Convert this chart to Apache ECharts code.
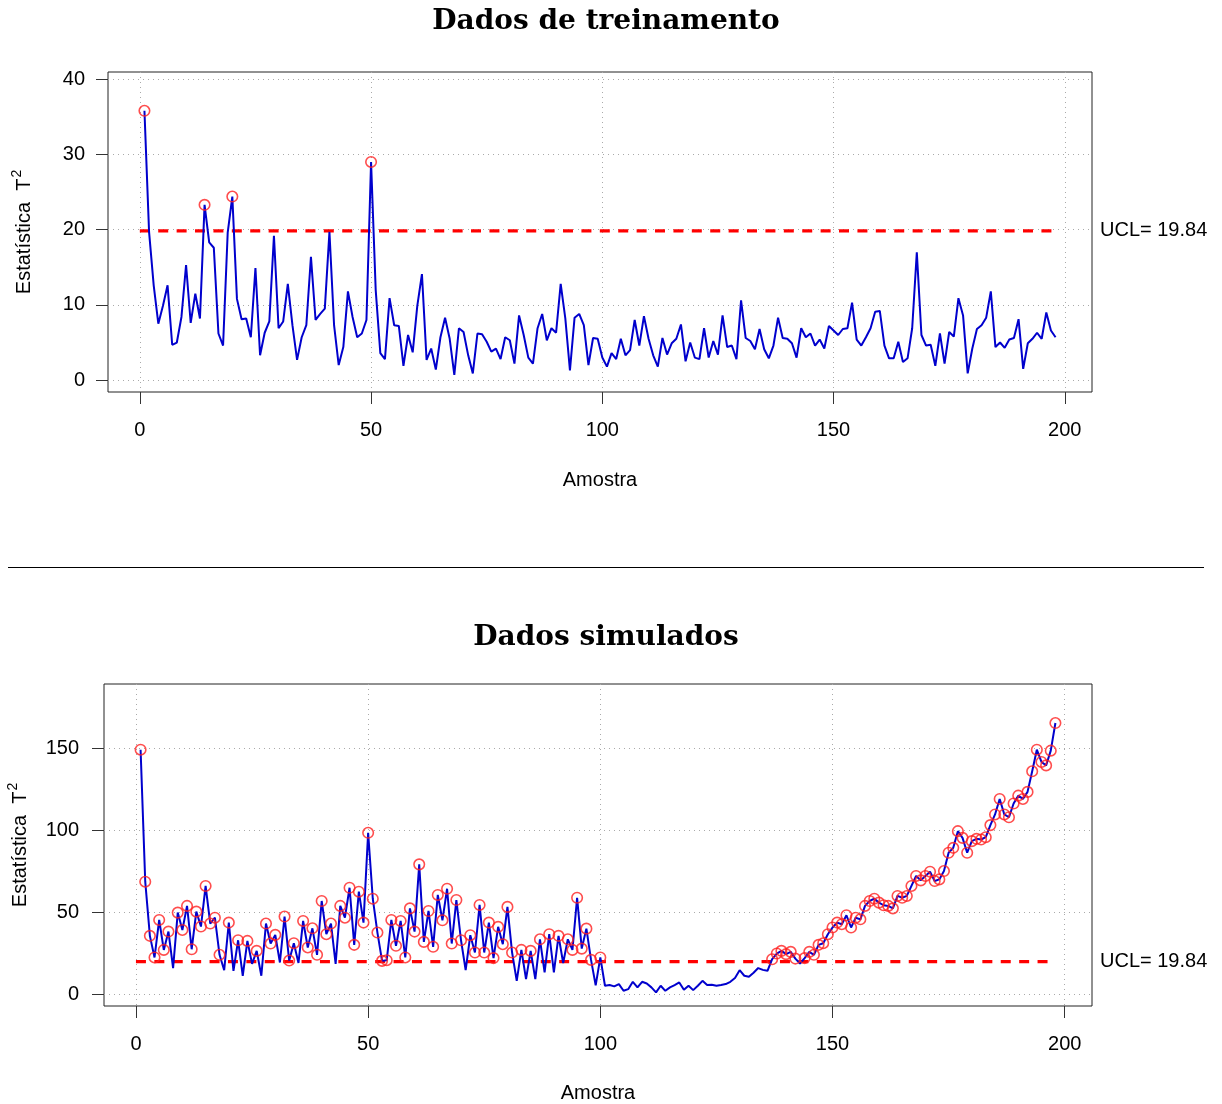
<!DOCTYPE html>
<html>
<head>
<meta charset="utf-8">
<script src="https://cdn.jsdelivr.net/npm/echarts@6/dist/echarts.min.js"></script>
<style>
  html, body { margin: 0; padding: 0; background: #fff; }
  #chart { width: 1222px; height: 1104px; }
</style>
</head>
<body>
<div id="chart"></div>
<script>
// ---- Data ----
const UCL = 19.84;
const titles = ['Dados de treinamento', 'Dados simulados'];
const xTicks = [0, 50, 100, 150, 200];
const yTicksTrain = [0, 10, 20, 30, 40];
const yTicksSim = [0, 50, 100, 150];

const train = [
  35.8, 19.7, 12.6, 7.5, 9.9, 12.6, 4.7, 5.0, 8.4, 15.3,
  7.6, 11.5, 8.2, 23.3, 18.3, 17.6, 6.2, 4.6, 19.6, 24.4,
  10.8, 8.1, 8.2, 5.7, 14.9, 3.3, 6.3, 7.8, 19.2, 6.9,
  7.8, 12.8, 7.3, 2.7, 5.7, 7.3, 16.4, 8.0, 8.8, 9.5,
  19.7, 7.3, 2.0, 4.4, 11.8, 8.4, 5.7, 6.2, 8.0, 29.0,
  12.0, 3.6, 2.8, 10.9, 7.3, 7.2, 1.9, 6.0, 3.7, 9.9,
  14.1, 2.7, 4.2, 1.4, 5.7, 8.3, 5.5, 0.7, 6.9, 6.4,
  3.3, 0.9, 6.2, 6.1, 5.1, 3.8, 4.2, 2.8, 5.7, 5.3,
  2.2, 8.6, 6.0, 3.0, 2.2, 6.9, 8.8, 5.3, 6.9, 6.3,
  12.8, 8.2, 1.3, 8.3, 8.8, 7.3, 2.0, 5.6, 5.5, 3.0,
  1.8, 3.6, 2.8, 5.5, 3.3, 4.0, 8.0, 4.6, 8.5, 5.5,
  3.3, 1.8, 5.6, 3.4, 4.9, 5.5, 7.4, 2.5, 5.0, 3.0,
  2.8, 6.9, 3.0, 5.2, 3.4, 8.6, 4.4, 4.6, 2.8, 10.6,
  5.6, 5.2, 4.1, 6.8, 4.1, 2.9, 4.6, 8.3, 5.6, 5.5,
  4.9, 3.0, 6.9, 5.7, 6.2, 4.6, 5.4, 4.2, 7.2, 6.6,
  6.0, 6.8, 6.9, 10.3, 5.4, 4.6, 5.7, 6.9, 9.1, 9.2,
  4.6, 2.9, 2.9, 5.1, 2.4, 2.9, 6.9, 17.0, 6.0, 4.6,
  4.7, 1.9, 6.2, 2.2, 6.4, 5.8, 10.9, 8.6, 0.9, 4.2,
  6.8, 7.3, 8.3, 11.8, 4.4, 5.0, 4.3, 5.4, 5.6, 8.1,
  1.5, 4.9, 5.5, 6.3, 5.5, 9.0, 6.6, 5.7
];

const sim = [
  149.4, 68.7, 35.6, 22.4, 45.3, 27.0, 38.2, 15.9, 49.8, 39.2,
  53.9, 27.4, 50.4, 41.3, 66.1, 43.1, 46.7, 24.0, 14.6, 43.7,
  14.2, 32.9, 11.2, 32.5, 18.5, 26.4, 11.2, 43.1, 30.9, 36.2,
  19.3, 47.4, 20.5, 31.1, 19.0, 44.7, 28.5, 40.2, 24.0, 56.9,
  36.6, 43.1, 18.5, 53.9, 46.7, 65.0, 30.1, 62.6, 43.7, 98.6,
  58.3, 37.6, 20.3, 20.7, 45.3, 29.5, 44.7, 22.4, 52.4, 38.2,
  79.3, 31.9, 50.8, 28.9, 60.6, 45.1, 64.4, 30.9, 57.5, 32.9,
  14.6, 36.0, 25.4, 54.5, 25.4, 43.7, 22.0, 41.1, 30.5, 53.3,
  25.4, 8.1, 27.0, 9.1, 26.4, 9.1, 33.5, 13.2, 36.6, 13.2,
  35.6, 19.0, 33.5, 27.0, 58.9, 27.8, 40.0, 20.9, 5.3, 22.4,
  5.1, 5.5, 4.7, 6.1, 2.0, 3.0, 7.5, 4.1, 7.5, 6.5,
  4.1, 1.0, 5.1, 2.0, 4.1, 5.5, 7.1, 2.6, 5.1, 2.4,
  5.1, 8.1, 5.5, 5.7, 5.1, 5.5, 6.1, 7.5, 9.8, 14.6,
  11.2, 10.6, 13.0, 15.9, 14.8, 14.2, 21.3, 24.8, 26.4, 24.4,
  25.8, 21.7, 18.7, 22.0, 25.8, 24.0, 30.1, 31.1, 36.6, 40.7,
  43.7, 42.7, 48.2, 40.7, 46.7, 45.7, 53.9, 56.9, 58.3, 55.9,
  54.3, 53.9, 52.4, 60.0, 58.9, 60.0, 66.1, 72.2, 69.5, 72.2,
  74.8, 69.1, 70.1, 75.2, 86.4, 89.4, 99.6, 95.5, 86.4, 93.5,
  94.9, 94.5, 95.9, 103.3, 109.8, 119.3, 109.8, 108.1, 116.5, 121.3,
  119.3, 123.6, 136.2, 149.4, 141.9, 139.8, 148.8, 165.7
];

// ---- Chart ----
const FONT = 'Liberation Sans';
const chart = echarts.init(document.getElementById('chart'), null, {renderer: 'canvas'});

const pts = arr => arr.map((v, i) => [i + 1, v]);
const out = arr => arr.map((v, i) => [i + 1, v]).filter(p => p[1] > UCL);

function xAxisDef(gridIndex, nameGap) {
  return {
    type: 'value', gridIndex, min: -6.88, max: 205.88,
    name: 'Amostra', nameLocation: 'middle', nameGap,
    nameTextStyle: {fontFamily: FONT, fontSize: 20, color: '#000'},
    axisLine: {show: false, onZero: false},
    axisTick: {show: true, inside: false, length: 12, customValues: xTicks, lineStyle: {color: '#333', width: 1}},
    axisLabel: {show: true, customValues: xTicks, margin: 28, fontFamily: FONT, fontSize: 20, color: '#000'},
    splitLine: {show: true, lineStyle: {color: '#aaa', width: 1, type: [1, 4]}}
  };
}
function yAxisDef(gridIndex, min, max, ticks, margin, gap) {
  return {
    type: 'value', gridIndex, min, max, position: 'left',
    name: '{a|Estatística  T}{s|2}', nameLocation: 'middle', nameRotate: 90, nameGap: gap,
    nameTextStyle: {fontFamily: FONT, fontSize: 20, color: '#000',
      rich: {
        a: {fontFamily: FONT, fontSize: 20, color: '#000', lineHeight: 24, verticalAlign: 'bottom'},
        s: {fontFamily: FONT, fontSize: 14, color: '#000', lineHeight: 24, verticalAlign: 'top', padding: [0, 0, 0, 1]}
      }},
    axisLine: {show: false, onZero: false},
    axisTick: {show: true, inside: false, length: 12, customValues: ticks, lineStyle: {color: '#333', width: 1}},
    axisLabel: {show: true, customValues: ticks, margin, fontFamily: FONT, fontSize: 20, color: '#000'},
    splitLine: {show: true, lineStyle: {color: '#aaa', width: 1, type: [1, 4]}}
  };
}
function uclAxisDef(gridIndex, min, max) {
  return {
    type: 'value', gridIndex, min, max, position: 'right',
    axisLine: {show: false, onZero: false}, axisTick: {show: false}, splitLine: {show: false},
    axisLabel: {show: true, customValues: [UCL], margin: 8, formatter: () => 'UCL= ' + UCL,
      fontFamily: FONT, fontSize: 20, color: '#000'}
  };
}
function seriesFor(arr, xi, yi) {
  return [
    {type: 'line', xAxisIndex: xi, yAxisIndex: yi, data: [[0, UCL], [arr.length, UCL]],
      showSymbol: false, silent: true, z: 2,
      lineStyle: {color: '#FF0000', width: 3.2, type: [10, 8.4]}},
    {type: 'line', xAxisIndex: xi, yAxisIndex: yi, data: pts(arr), showSymbol: false, z: 3,
      lineStyle: {color: '#0000CD', width: 2}},
    {type: 'scatter', xAxisIndex: xi, yAxisIndex: yi, data: out(arr), symbol: 'circle', symbolSize: 10.5, z: 4,
      itemStyle: {color: 'rgba(0,0,0,0)', borderColor: '#FF2020', borderWidth: 1.6}}
  ];
}

const titleFont = 'bold 28px "DejaVu Serif"';
const option = {
  animation: false,
  backgroundColor: '#fff',
  grid: [
    {left: 108, top: 72, width: 984, height: 320, show: true, borderColor: '#222', borderWidth: 1,
      backgroundColor: 'transparent', containLabel: false, outerBoundsMode: 'none'},
    {left: 104, top: 684, width: 988, height: 322, show: true, borderColor: '#222', borderWidth: 1,
      backgroundColor: 'transparent', containLabel: false, outerBoundsMode: 'none'}
  ],
  xAxis: [xAxisDef(0, 78), xAxisDef(1, 77)],
  yAxis: [
    yAxisDef(0, -1.575, 40.955, yTicksTrain, 23, 74),
    yAxisDef(1, -7.29, 189.56, yTicksSim, 25, 74),
    uclAxisDef(0, -1.575, 40.955),
    uclAxisDef(1, -7.29, 189.56)
  ],
  graphic: [
    {type: 'text', x: 606, y: 22, style: {text: titles[0], font: titleFont, fill: '#000', textAlign: 'center', textVerticalAlign: 'middle'}},
    {type: 'text', x: 606, y: 638, style: {text: titles[1], font: titleFont, fill: '#000', textAlign: 'center', textVerticalAlign: 'middle'}},
    {type: 'line', shape: {x1: 8, y1: 567.5, x2: 1204, y2: 567.5}, style: {stroke: '#000', lineWidth: 1}}
  ],
  series: [...seriesFor(train, 0, 0), ...seriesFor(sim, 1, 1)]
};
chart.setOption(option);
</script>
</body>
</html>
